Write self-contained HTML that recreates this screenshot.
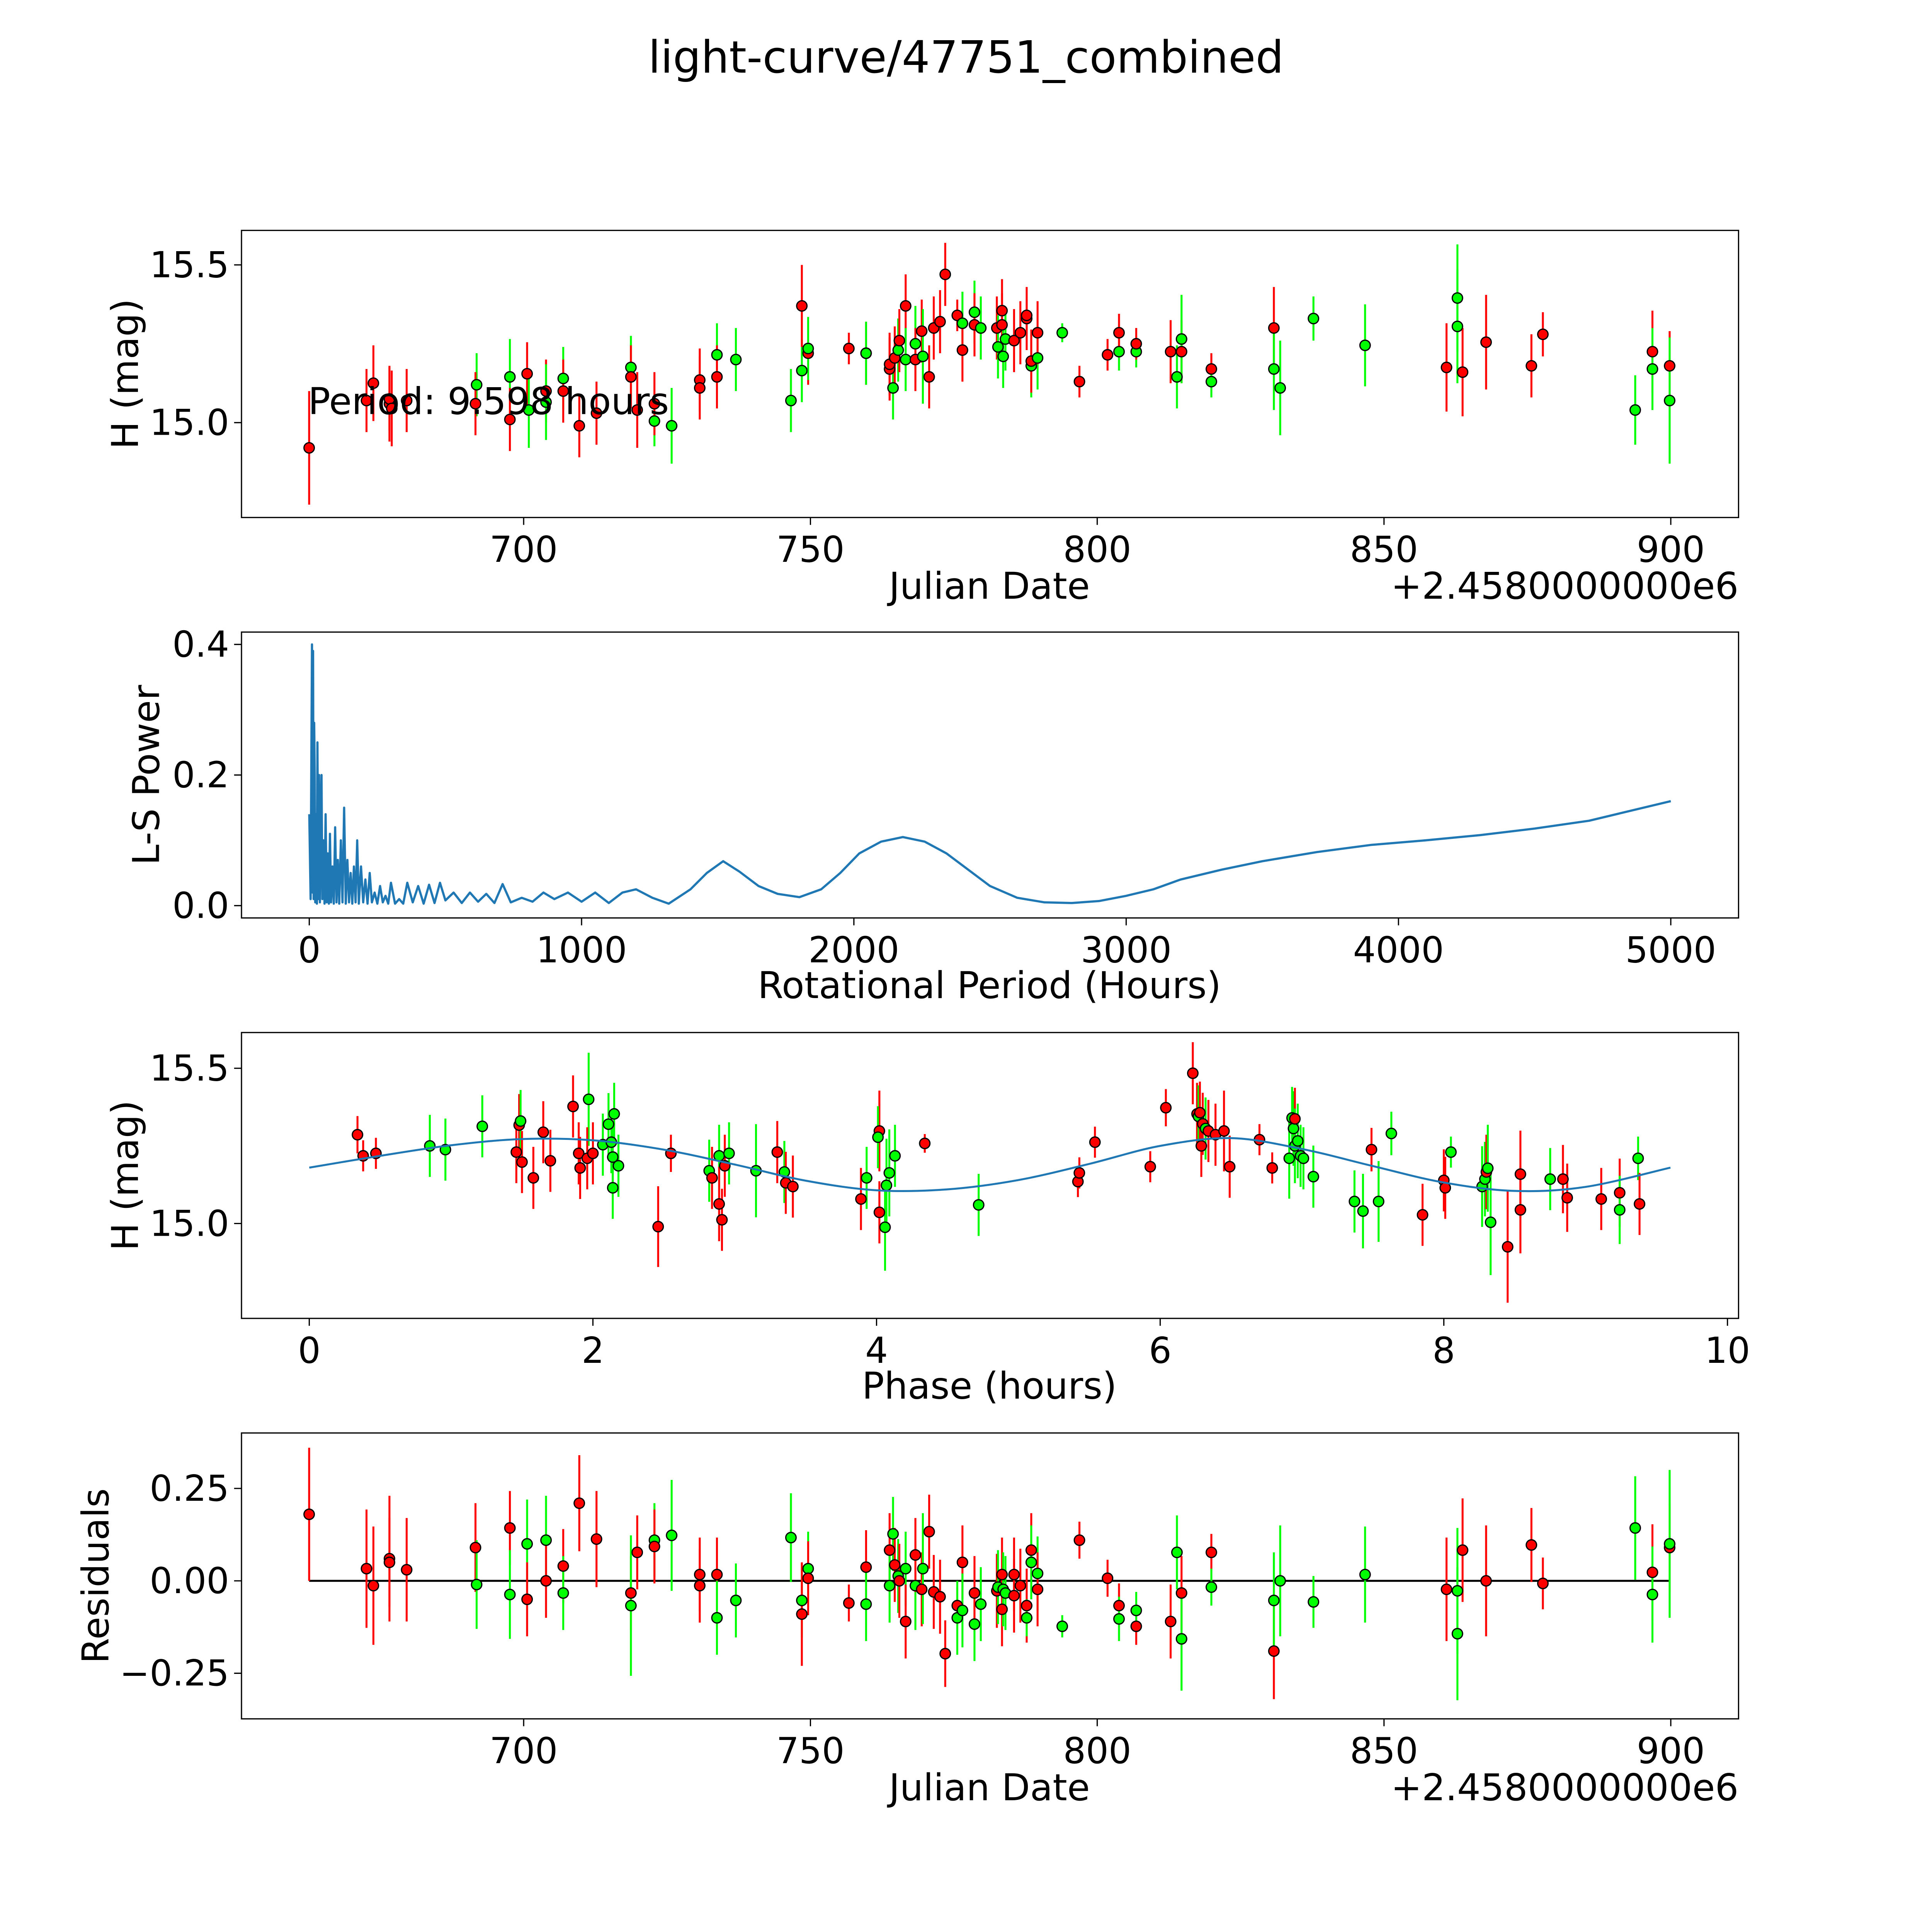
<!DOCTYPE html>
<html><head><meta charset="utf-8">
<style>html,body{margin:0;padding:0;background:#fff;width:100vw;height:100vh;overflow:hidden}svg{display:block;width:100vw;height:100vh}</style>
</head><body>
<svg id="fig" xmlns="http://www.w3.org/2000/svg" viewBox="0 0 1568 1568" preserveAspectRatio="none" font-family="DejaVu Sans, Liberation Sans, sans-serif">
<rect x="0" y="0" width="1568" height="1568" fill="#fff"/>
<text x="784" y="59" font-size="36" text-anchor="middle">light-curve/47751_combined</text>
<g id="layer"></g>
</svg>
<script>
// ---- Data ----
const lcPoints = [
[662.6,14.92,'r',.18],[672.6,15.07,'r',.1],[673.8,15.125,'r',.12],[676.6,15.06,'r',.12],[676.6,15.075,'r',.1],[677.0,15.045,'r',.12],[679.6,15.07,'r',.1],
[691.8,15.12,'g',.1],[691.6,15.06,'r',.1],[697.6,15.145,'g',.12],[697.6,15.01,'r',.1],[700.6,15.155,'r',.1],[700.9,15.04,'g',.12],[703.9,15.10,'r',.1],[703.9,15.065,'g',.12],
[706.9,15.14,'g',.1],[706.9,15.10,'r',.1],[709.7,14.99,'r',.1],[712.7,15.03,'r',.1],[718.7,15.175,'g',.1],[718.7,15.145,'r',.1],[719.8,15.04,'r',.12],[722.8,15.005,'g',.08],
[722.8,15.06,'r',.1],[725.8,14.99,'g',.12],[730.7,15.135,'r',.1],[730.7,15.11,'r',.1],[733.7,15.215,'g',.1],[733.7,15.145,'r',.1],[737,15.20,'g',.1],[746.6,15.07,'g',.1],
[748.5,15.165,'g',.1],[748.5,15.37,'r',.13],[749.6,15.22,'r',.1],[749.6,15.235,'g',.1],[756.7,15.235,'r',.05],[759.7,15.22,'r',.1],[759.7,15.22,'g',.1],[763.8,15.17,'r',.1],
[763.8,15.185,'r',.1],[764.4,15.11,'g',.1],[764.7,15.205,'r',.1],[765.3,15.23,'g',.1],[765.5,15.26,'r',.1],[766.6,15.37,'r',.1],[766.6,15.2,'g',.1],[768.3,15.25,'g',.12],
[768.3,15.2,'r',.1],[769.4,15.29,'r',.1],[769.6,15.21,'g',.15],[770.7,15.145,'r',.1],[771.5,15.30,'r',.1],[772.6,15.32,'r',.1],[773.5,15.47,'r',.1],[775.6,15.34,'r',.05],
[776.5,15.315,'g',.1],[776.5,15.23,'r',.1],[778.6,15.35,'g',.1],[778.6,15.31,'r',.1],[779.7,15.30,'g',.1],[782.5,15.30,'r',.1],[782.7,15.24,'g',.1],[783.4,15.355,'r',.1],
[783.4,15.31,'r',.1],[783.6,15.21,'g',.1],[784,15.265,'g',.1],[785.5,15.26,'r',.1],[786.6,15.285,'r',.1],[787.7,15.33,'r',.1],[787.7,15.34,'r',.05],[788.5,15.18,'g',.1],
[788.5,15.195,'r',.1],[789.6,15.205,'g',.1],[789.6,15.285,'r',.1],[793.9,15.285,'g',.03],[796.9,15.13,'r',.05],[801.8,15.215,'r',.05],[803.8,15.225,'g',.06],[803.8,15.285,'r',.06],
[806.8,15.225,'g',.05],[806.8,15.25,'r',.05],[812.8,15.225,'r',.1],[813.9,15.145,'g',.1],[814.7,15.225,'r',.1],[814.7,15.265,'g',.14],[819.9,15.17,'r',.05],[819.9,15.13,'g',.05],
[830.8,15.30,'r',.13],[830.8,15.17,'g',.13],[831.9,15.11,'g',.15],[837.7,15.33,'g',.07],[846.7,15.245,'g',.13],[860.9,15.175,'r',.14],[862.8,15.395,'g',.17],[862.8,15.305,'g',.18],
[863.7,15.16,'r',.14],[867.8,15.255,'r',.15],[875.7,15.18,'r',.1],[877.7,15.28,'r',.07],[893.8,15.04,'g',.11],[896.8,15.225,'r',.13],[896.8,15.17,'g',.13],[899.8,15.18,'r',.11],[899.8,15.07,'g',.2]
];
const residPoints = [
[662.6,.18,'r',.18],[672.6,.033,'r',.16],[673.8,-.013,'r',.16],[676.6,.06,'r',.17],[676.6,.05,'r',.12],[679.6,.03,'r',.14],[691.6,.09,'r',.12],[691.8,-.01,'g',.12],
[697.6,.143,'r',.1],[697.6,-.037,'g',.12],[700.6,.10,'g',.12],[700.6,-.05,'r',.1],[703.9,.11,'g',.12],[703.9,0,'r',.1],[706.9,.04,'r',.1],[706.9,-.033,'g',.1],[709.7,.21,'r',.13],
[712.7,.113,'r',.13],[718.7,-.033,'r',.1],[718.7,-.067,'g',.19],[719.8,.077,'r',.1],[722.8,.11,'g',.1],[722.8,.093,'r',.1],[725.8,.123,'g',.15],[730.7,.017,'r',.1],[730.7,-.013,'r',.1],
[733.7,.017,'r',.1],[733.7,-.1,'g',.1],[737,-.053,'g',.1],[746.6,.117,'g',.12],[748.5,-.053,'g',.1],[748.5,-.09,'r',.14],[749.6,.033,'g',.1],[749.6,.007,'r',.1],[756.7,-.06,'r',.05],
[759.7,.037,'r',.1],[759.7,-.063,'g',.1],[763.8,.083,'r',.1],[764.4,.127,'g',.1],[763.8,-.013,'g',.1],[764.7,.043,'r',.1],[765.3,.013,'g',.1],[765.5,0,'r',.1],[766.6,.033,'g',.1],
[766.6,-.11,'r',.1],[768.3,-.013,'g',.12],[768.3,.07,'r',.1],[769.4,-.023,'r',.1],[769.6,.033,'g',.15],[770.7,.133,'r',.1],[771.5,-.03,'r',.1],[772.6,-.043,'r',.1],[773.5,-.197,'r',.09],
[775.6,-.067,'r',.05],[775.6,-.1,'g',.1],[776.5,.05,'r',.1],[776.5,-.08,'g',.1],[778.6,-.117,'g',.1],[778.6,-.033,'r',.1],[779.7,-.063,'g',.1],[782.5,-.027,'r',.1],[782.7,-.017,'g',.1],
[783.4,-.077,'r',.1],[783.4,.017,'r',.1],[783.6,-.023,'g',.1],[784,-.033,'g',.1],[785.5,.017,'r',.1],[785.5,-.04,'r',.1],[786.6,-.013,'r',.1],[787.7,-.067,'r',.1],[787.7,-.1,'g',.05],
[788.5,.083,'r',.1],[788.5,.05,'g',.1],[789.6,.02,'g',.1],[789.6,-.023,'r',.1],[793.9,-.123,'g',.03],[796.9,.11,'r',.05],[801.8,.007,'r',.05],[803.8,-.067,'r',.06],[803.8,-.103,'g',.06],
[806.8,-.123,'r',.05],[806.8,-.08,'g',.05],[812.8,-.11,'r',.1],[813.9,.077,'g',.1],[814.7,-.033,'r',.1],[814.7,-.157,'g',.14],[819.9,.077,'r',.05],[819.9,-.017,'g',.05],
[830.8,-.19,'r',.13],[830.8,-.053,'g',.13],[831.9,0,'g',.15],[837.7,-.057,'g',.07],[846.7,.017,'g',.13],[860.9,-.023,'r',.14],[862.8,-.027,'g',.17],[862.8,-.143,'g',.18],
[863.7,.083,'r',.14],[867.8,0,'r',.15],[875.7,.097,'r',.1],[877.7,-.007,'r',.07],[893.8,.143,'g',.14],[896.8,.023,'r',.13],[896.8,-.037,'g',.13],[899.8,.09,'r',.12],[899.8,.1,'g',.2]
];
const phasePoints = [
[0.34,15.286,'r',.06],[0.38,15.218,'r',.05],[0.47,15.226,'r',.05],[0.85,15.25,'g',.1],[0.96,15.238,'g',.1],[1.22,15.313,'g',.1],[1.46,15.23,'r',.1],[1.48,15.317,'r',.1],
[1.49,15.33,'g',.1],[1.50,15.198,'r',.1],[1.58,15.147,'r',.1],[1.65,15.294,'r',.1],[1.70,15.202,'r',.1],[1.86,15.377,'r',.1],[1.90,15.226,'r',.1],[1.91,15.179,'r',.1],
[1.97,15.40,'g',.15],[1.96,15.21,'r',.1],[2.0,15.226,'r',.1],[2.07,15.254,'g',.1],[2.11,15.32,'g',.1],[2.13,15.262,'g',.1],[2.15,15.353,'g',.1],[2.14,15.214,'g',.1],
[2.14,15.115,'g',.1],[2.18,15.186,'g',.1],[2.55,15.226,'r',.06],[2.46,14.99,'r',.13],[2.82,15.17,'g',.1],[2.84,15.147,'r',.1],[2.89,15.218,'g',.1],[2.89,15.063,'r',.12],
[2.91,15.012,'r',.1],[2.93,15.186,'r',.1],[2.96,15.226,'g',.1],[3.15,15.17,'g',.15],[3.3,15.23,'r',.1],[3.35,15.166,'g',.1],[3.36,15.131,'r',.1],[3.41,15.119,'r',.1],
[3.89,15.079,'r',.1],[3.93,15.147,'g',.1],[4.02,15.298,'r',.13],[4.01,15.278,'g',.1],[4.02,15.036,'r',.1],[4.06,14.988,'g',.14],[4.07,15.123,'g',.15],[4.09,15.163,'g',.14],
[4.13,15.218,'g',.1],[4.34,15.258,'r',.03],[4.72,15.06,'g',.1],[5.42,15.135,'r',.05],[5.43,15.163,'r',.05],[5.54,15.262,'r',.05],[5.93,15.183,'r',.05],[6.04,15.373,'r',.06],
[6.23,15.484,'r',.1],[6.26,15.353,'r',.1],[6.27,15.345,'g',.1],[6.28,15.357,'r',.1],[6.29,15.25,'r',.1],[6.30,15.321,'r',.1],[6.32,15.306,'g',.1],[6.34,15.298,'r',.1],
[6.39,15.286,'r',.1],[6.45,15.298,'r',.13],[6.49,15.183,'r',.1],[6.7,15.27,'r',.05],[6.79,15.179,'r',.05],[6.91,15.21,'g',.13],[6.93,15.34,'g',.1],[6.94,15.306,'g',.12],
[6.95,15.337,'r',.1],[6.95,15.25,'g',.12],[6.97,15.266,'g',.12],[6.99,15.218,'g',.1],[7.01,15.21,'g',.1],[7.08,15.151,'g',.1],[7.37,15.071,'g',.1],[7.43,15.04,'g',.12],
[7.49,15.238,'r',.07],[7.54,15.071,'g',.13],[7.63,15.29,'g',.07],[7.85,15.028,'r',.1],[8.0,15.139,'r',.1],[8.01,15.115,'r',.1],[8.05,15.23,'g',.05],[8.27,15.119,'g',.13],
[8.29,15.143,'g',.12],[8.30,15.166,'r',.12],[8.31,15.178,'g',.14],[8.33,15.004,'g',.17],[8.45,14.925,'r',.18],[8.54,15.159,'r',.14],[8.54,15.044,'r',.14],[8.75,15.143,'g',.1],
[8.84,15.143,'r',.11],[8.87,15.083,'r',.11],[9.11,15.079,'r',.1],[9.24,15.099,'r',.11],[9.24,15.044,'g',.11],[9.37,15.21,'g',.07],[9.38,15.063,'r',.1]
];
const modelPhase = [0,0.5,1.0,1.5,2.0,2.5,3.0,3.5,4.0,4.5,5.0,5.5,6.0,6.5,7.0,7.5,8.0,8.5,9.0,9.598];
const modelMag   = [15.18,15.218,15.252,15.272,15.268,15.238,15.19,15.138,15.107,15.11,15.14,15.192,15.25,15.275,15.24,15.185,15.132,15.105,15.118,15.18];
const lsPeriod = [0,5,8,10,12,14,16,18,20,22,25,28,30,33,36,39,42,45,48,52,56,60,64,68,72,76,80,85,90,95,100,105,110,116,122,128,134,140,146,152,158,164,170,176,182,190,198,206,214,222,230,240,250,260,270,280,290,300,315,330,345,360,380,400,420,440,460,480,500,530,560,590,620,650,680,710,740,780,820,860,900,950,1000,1050,1100,1150,1200,1260,1320,1400,1460,1520,1580,1650,1720,1800,1880,1950,2020,2100,2180,2260,2340,2420,2500,2600,2700,2800,2900,3000,3100,3200,3350,3500,3700,3900,4100,4300,4500,4700,5000];
const lsPower  = [0.14,0.01,0.25,0.40,0.02,0.39,0.01,0.28,0.2,0.005,0.14,0.003,0.25,0.01,0.2,0.005,0.12,0.2,0.01,0.1,0.003,0.14,0.005,0.08,0.003,0.11,0.005,0.06,0.003,0.12,0.005,0.07,0.003,0.1,0.005,0.15,0.003,0.07,0.005,0.05,0.003,0.06,0.005,0.1,0.003,0.06,0.005,0.04,0.003,0.05,0.005,0.02,0.003,0.03,0.005,0.015,0.003,0.035,0.003,0.01,0.003,0.035,0.005,0.03,0.003,0.032,0.004,0.035,0.008,0.02,0.004,0.02,0.006,0.018,0.004,0.033,0.005,0.012,0.006,0.02,0.01,0.02,0.006,0.02,0.004,0.02,0.025,0.012,0.003,0.025,0.05,0.068,0.052,0.03,0.018,0.013,0.025,0.05,0.08,0.098,0.105,0.098,0.08,0.055,0.03,0.012,0.005,0.004,0.007,0.015,0.025,0.04,0.055,0.068,0.082,0.093,0.1,0.108,0.118,0.13,0.16];
const jdTicks = [700,750,800,850,900];
const magTicks = [15.0,15.5];
const lsXTicks = [0,1000,2000,3000,4000,5000];
const lsYTicks = [0.0,0.2,0.4];
const phaseTicks = [0,2,4,6,8,10];
const residTicks = [-0.25,0,0.25];

// ---- Helpers ----
const NS='http://www.w3.org/2000/svg';
const layer=document.getElementById('layer');
function mk(tag,attrs,parent){const e=document.createElementNS(NS,tag);for(const k in attrs)e.setAttribute(k,attrs[k]);(parent||layer).appendChild(e);return e;}
function scale(d0,d1,r0,r1){return v=>r0+(v-d0)/(d1-d0)*(r1-r0);}
const L=196,R=1411;
const TICKFS=29, LABFS=30;
function axesBox(top,bot,name){
  const g=mk('g',{});
  
  
  return g;
}
function frame(g,top,bot){
  const f=mk('rect',{x:L,y:top,width:R-L,height:bot-top,fill:'none',stroke:'#000','stroke-width':1},g);
  
  
}
function fmt(v,dec){let s=v.toFixed(dec);return s.replace('-','\u2212');}
function xTicks(g,ticks,xs,bot,dec){
  ticks.forEach(t=>{const x=xs(t);
    const l=mk('line',{x1:x,x2:x,y1:bot,y2:bot+6,stroke:'#000','stroke-width':1},g);
    
    
    const tx=mk('text',{x:x,y:bot+36,'font-size':TICKFS,'text-anchor':'middle'},g);tx.textContent=fmt(t,dec);
    
    
  });
}
function yTicks(g,ticks,ys,dec){
  ticks.forEach(t=>{const y=ys(t);
    const l=mk('line',{x1:L-6,x2:L,y1:y,y2:y,stroke:'#000','stroke-width':1},g);
    
    
    const tx=mk('text',{x:L-10,y:y+10,'font-size':TICKFS,'text-anchor':'end'},g);tx.textContent=fmt(t,dec);
    
    
  });
}
function label(g,txt,x,y,rot,name,anchor){
  const t=mk('text',{x:x,y:y,'font-size':LABFS,'text-anchor':anchor||'middle'},g);
  if(rot)t.setAttribute('transform','rotate(-90 '+x+' '+y+')');
  t.textContent=txt;
  
  
}
const COL={r:'#ff0000',g:'#00ff00'};
function errPoints(g,pts,xs,ys,name){
  const eb=mk('g',{},g);
  const mg=mk('g',{},g);
  pts.forEach(p=>{
    const x=xs(p[0]);
    const l=mk('line',{x1:x,x2:x,y1:ys(p[1]-p[3]),y2:ys(p[1]+p[3]),stroke:COL[p[2]],'stroke-width':1.6},eb);
    
    
  });
  pts.forEach(p=>{
    const c=mk('circle',{cx:xs(p[0]),cy:ys(p[1]),r:4.2,fill:COL[p[2]],stroke:'#000','stroke-width':1},mg);
    
    
  });
}

// ---- Panel 1: light curve ----
(function(){
  const top=187,bot=420;
  const xs=scale(700,900,425,1356), ys=scale(15.0,15.5,343,215);
  const g=axesBox(top,bot,'light-curve-panel');
  const cp=mk('clipPath',{id:'c1'},g);mk('rect',{x:L,y:top,width:R-L,height:bot-top},cp);
  const pg=mk('g',{'clip-path':'url(#c1)'},g);
  errPoints(pg,lcPoints,xs,ys,'light-curve');
  frame(g,top,bot);
  xTicks(g,jdTicks,xs,bot,0);yTicks(g,magTicks,ys,1);
  label(g,'Julian Date',803,486,false,'x-axis-title');
  label(g,'+2.4580000000e6',R,486,false,'x-axis-offset','end');
  label(g,'H (mag)',112,(top+bot)/2,true,'y-axis-title');
  const t=mk('text',{x:250,y:336,'font-size':LABFS},g);t.textContent='Period: 9.598 hours';
  
  
})();

// ---- Panel 2: periodogram ----
(function(){
  const top=513,bot=745;
  const xs=scale(0,5000,251,1356), ys=scale(0,0.4,735,523);
  const g=axesBox(top,bot,'periodogram-panel');
  let d='';lsPeriod.forEach((p,i)=>{d+=(i?'L':'M')+xs(p).toFixed(2)+' '+ys(lsPower[i]).toFixed(2);});
  const path=mk('path',{d:d,fill:'none',stroke:'#1f77b4','stroke-width':1.8,'stroke-linejoin':'round'},g);
  
  
  frame(g,top,bot);
  xTicks(g,lsXTicks,xs,bot,0);yTicks(g,lsYTicks,ys,1);
  label(g,'Rotational Period (Hours)',803,810,false,'x-axis-title');
  label(g,'L-S Power',129,(top+bot)/2,true,'y-axis-title');
})();

// ---- Panel 3: phased ----
(function(){
  const top=838,bot=1070;
  const xs=scale(0,10,251,1402), ys=scale(15.0,15.5,993,867);
  const g=axesBox(top,bot,'phased-panel');
  const cp=mk('clipPath',{id:'c3'},g);mk('rect',{x:L,y:top,width:R-L,height:bot-top},cp);
  const pg=mk('g',{'clip-path':'url(#c3)'},g);
  errPoints(pg,phasePoints,xs,ys,'phased');
  const P=modelPhase.map((p,i)=>[xs(p),ys(modelMag[i])]);
  let d='M'+P[0][0]+' '+P[0][1];
  for(let i=0;i<P.length-1;i++){const p0=P[Math.max(0,i-1)],p1=P[i],p2=P[i+1],p3=P[Math.min(P.length-1,i+2)];
    d+='C'+(p1[0]+(p2[0]-p0[0])/6)+' '+(p1[1]+(p2[1]-p0[1])/6)+' '+(p2[0]-(p3[0]-p1[0])/6)+' '+(p2[1]-(p3[1]-p1[1])/6)+' '+p2[0]+' '+p2[1];}
  const m=mk('path',{d:d,fill:'none',stroke:'#1f77b4','stroke-width':1.6},pg);
  
  
  frame(g,top,bot);
  xTicks(g,phaseTicks,xs,bot,0);yTicks(g,magTicks,ys,1);
  label(g,'Phase (hours)',803,1135,false,'x-axis-title');
  label(g,'H (mag)',112,(top+bot)/2,true,'y-axis-title');
})();

// ---- Panel 4: residuals ----
(function(){
  const top=1163,bot=1395;
  const xs=scale(700,900,425,1356), ys=scale(0,0.25,1283,1208);
  const g=axesBox(top,bot,'residuals-panel');
  const cp=mk('clipPath',{id:'c4'},g);mk('rect',{x:L,y:top,width:R-L,height:bot-top},cp);
  const pg=mk('g',{'clip-path':'url(#c4)'},g);
  const zl=mk('line',{x1:xs(lcPoints[0][0]),x2:xs(899.8),y1:ys(0),y2:ys(0),stroke:'#000','stroke-width':1.6},pg);
  
  
  errPoints(pg,residPoints,xs,ys,'residual');
  frame(g,top,bot);
  xTicks(g,jdTicks,xs,bot,0);yTicks(g,residTicks,ys,2);
  label(g,'Julian Date',803,1461,false,'x-axis-title');
  label(g,'+2.4580000000e6',R,1461,false,'x-axis-offset','end');
  label(g,'Residuals',88,(top+bot)/2,true,'y-axis-title');
})();
</script>
</body></html>
